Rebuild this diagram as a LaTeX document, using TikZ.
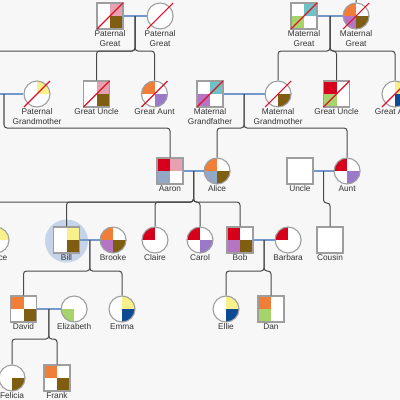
\documentclass[tikz,border=0pt]{standalone}
\usepackage{fontspec}
\setmainfont{Liberation Sans}
\usepackage{xcolor}
\usepackage{tikz}
\usetikzlibrary{calc,positioning}

\definecolor{bg}{HTML}{F7F7F7}
\definecolor{rim}{HTML}{9E9E9E}
\definecolor{wire}{HTML}{4A4A4A}
\definecolor{txt}{HTML}{333333}
\definecolor{wedblue}{HTML}{7399CC}
\definecolor{strikered}{HTML}{E0102A}
\definecolor{cred}{HTML}{D7001C}
\definecolor{cpink}{HTML}{E6A0B0}
\definecolor{cbrown}{HTML}{7F5E12}
\definecolor{cyellow}{HTML}{F8F08A}
\definecolor{corange}{HTML}{F07D38}
\definecolor{clilac}{HTML}{9A7AC8}
\definecolor{cplum}{HTML}{B574C4}
\definecolor{cteal}{HTML}{6CC2C6}
\definecolor{cgreen}{HTML}{A6D46A}
\definecolor{cnavy}{HTML}{0D4A92}
\definecolor{cslate}{HTML}{93A7C7}
\definecolor{hilite}{HTML}{C6D4EA}

\begin{document}
\begin{tikzpicture}[
      x=1pt, y=-1pt,
      font=\fontsize{8.3}{9.5}\selectfont,
      person/.style={draw=rim, line width=1.1pt, fill=white, minimum size=26pt, inner sep=0pt},
      male/.style={person, rectangle},
      female/.style={person, circle},
      quad/.style n args={4}{path picture={
        \fill[#1] (path picture bounding box.center) rectangle (path picture bounding box.north west);
        \fill[#2] (path picture bounding box.center) rectangle (path picture bounding box.north east);
        \fill[#3] (path picture bounding box.center) rectangle (path picture bounding box.south west);
        \fill[#4] (path picture bounding box.center) rectangle (path picture bounding box.south east);}},
      lbl/.style={align=center, inner sep=1pt, text=txt},
      wed/.style={draw=wedblue, line width=1.8pt},
      kin/.style={draw=wire, line width=1pt, rounded corners=3pt},
      strike/.style={draw=strikered, line width=1.2pt}
    ]
    \useasboundingbox (0,0) rectangle (400,400);
    \clip (0,0) rectangle (400,400);
    \fill[bg] (0,0) rectangle (400,400);

    % great-grandparents
    \node[male, quad={white}{cpink}{white}{cbrown}, label={[lbl]below:{Paternal\\Great}}] (pgf) at (110,16) {};
    \node[female, right=23pt of pgf, label={[lbl]below:{Paternal\\Great}}] (pgm) {};
    \node[male, quad={white}{cteal}{cgreen}{white}, label={[lbl]below:{Maternal\\Great}}] (mgf) at (304,16) {};
    \node[female, right=25pt of mgf, quad={corange}{white}{cplum}{cbrown}, label={[lbl]below:{Maternal\\Great}}] (mgm) {};
    \coordinate (mgmtop) at (356,-20);

    % grandparents and great uncles / aunts
    \coordinate (pgpa) at (-29,94);
    \node[female, quad={white}{cyellow}{white}{white}, label={[lbl]below:{Paternal\\Grandmother}}] (pgma) at (37,94) {};
    \node[male, quad={white}{cpink}{white}{cbrown}, label={[lbl]below:Great Uncle}] (pgu) at (96.5,94) {};
    \node[female, quad={corange}{white}{white}{clilac}, label={[lbl]below:Great Aunt}] (pga) at (154.5,94) {};
    \node[male, quad={white}{cteal}{cplum}{white}, label={[lbl]below:{Maternal\\Grandfather}}] (mgpa) at (210,94) {};
    \node[female, right=41pt of mgpa, quad={white}{white}{white}{cbrown}, label={[lbl]below:{Maternal\\Grandmother}}] (mgma) {};
    \node[male, quad={cred}{white}{cgreen}{white}, label={[lbl]below:Great Uncle}] (mgu) at (336.5,94) {};
    \node[female, quad={white}{cyellow}{white}{cnavy}, label={[lbl]below:Great Aunt}] (mga) at (395,94) {};

    % parents
    \node[male, quad={cred}{cpink}{cslate}{white}, label={[lbl]below:Aaron}] (aaron) at (170,171) {};
    \node[female, right=20pt of aaron, quad={corange}{white}{cslate}{cbrown}, label={[lbl]below:Alice}] (alice) {};
    \node[male, label={[lbl]below:Uncle}] (uncle) at (300,171) {};
    \node[female, right=20pt of uncle, quad={cred}{white}{white}{clilac}, label={[lbl]below:Aunt}] (aunt) {};

    % siblings
    \fill[hilite] (66.5,241) circle (21.5pt);
    \node[female, quad={white}{cyellow}{white}{white}, label={[lbl]below:Grace}] (grace) at (-4,240) {};
    \node[male, quad={white}{cyellow}{white}{cbrown}, label={[lbl]below:Bill}] (bill) at (66.5,240) {};
    \node[female, right=19.5pt of bill, quad={corange}{white}{cplum}{cbrown}, label={[lbl]below:Brooke}] (brooke) {};
    \node[female, quad={cred}{white}{white}{white}, label={[lbl]below:Claire}] (claire) at (155,240) {};
    \node[female, quad={cred}{white}{white}{clilac}, label={[lbl]below:Carol}] (carol) at (200,240) {};
    \node[male, quad={cred}{white}{cplum}{cbrown}, label={[lbl]below:Bob}] (bob) at (240,240) {};
    \node[female, right=21pt of bob, quad={cred}{white}{white}{white}, label={[lbl]below:Barbara}] (barbara) {};
    \node[male, label={[lbl]below:Cousin}] (cousin) at (330,240) {};

    % children
    \node[male, quad={corange}{white}{white}{cbrown}, label={[lbl]below:David}] (david) at (23.5,309) {};
    \node[female, right=23.5pt of david, quad={white}{white}{cgreen}{white}, label={[lbl]below:Elizabeth}] (eliz) {};
    \node[female, quad={white}{cyellow}{white}{cnavy}, label={[lbl]below:Emma}] (emma) at (122,309) {};
    \node[female, quad={white}{cyellow}{white}{cnavy}, label={[lbl]below:Ellie}] (ellie) at (226,309) {};
    \node[male, quad={corange}{white}{cgreen}{white}, label={[lbl]below:Dan}] (dan) at (271,309) {};

    % grandchildren
    \node[female, quad={white}{white}{white}{cbrown}, label={[lbl]below:Felicia}] (felicia) at (12,378) {};
    \node[male, quad={corange}{white}{white}{cbrown}, label={[lbl]below:Frank}] (frank) at (57,378) {};

    % couples
    \draw[wed] (pgf) -- (pgm);
    \draw[wed] (mgf) -- (mgm);
    \draw[wed] (pgpa) -- (pgma);
    \draw[wed] (mgpa) -- (mgma);
    \draw[wed] (aaron) -- (alice);
    \draw[wed] (uncle) -- (aunt);
    \draw[wed] (bill) -- (brooke);
    \draw[wed] (bob) -- (barbara);
    \draw[wed] (david) -- (eliz);

    % descent
    \coordinate (pg) at ($(pgf)!.5!(pgm)$);
    \coordinate (mg) at ($(mgf)!.5!(mgm)$);
    \coordinate (pp) at ($(pgpa)!.5!(pgma)$);
    \coordinate (mp) at ($(mgpa)!.5!(mgma)$);
    \coordinate (aa) at ($(aaron)!.5!(alice)$);
    \coordinate (ua) at ($(uncle)!.5!(aunt)$);
    \coordinate (bb) at ($(bill)!.5!(brooke)$);
    \coordinate (ob) at ($(bob)!.5!(barbara)$);
    \coordinate (de) at ($(david)!.5!(eliz)$);
    \draw[kin] (mgm) -- (mgmtop);
    \foreach \c in {pgpa,pgu,pga} \draw[kin] (pg) |- (\c |- 0,51) -- (\c);
    \foreach \c in {mgma,mgu,mga} \draw[kin] (mg) |- (\c |- 0,51) -- (\c);
    \draw[kin] (pp) |- (aaron |- 0,128) -- (aaron);
    \foreach \c in {alice,aunt} \draw[kin] (mp) |- (\c |- 0,128) -- (\c);
    \foreach \c in {grace,bill,claire,carol,bob} \draw[kin] (aa) |- (\c |- 0,202) -- (\c);
    \draw[kin] (ua) |- (cousin |- 0,203) -- (cousin);
    \foreach \c in {david,emma} \draw[kin] (bb) |- (\c |- 0,271) -- (\c);
    \foreach \c in {ellie,dan} \draw[kin] (ob) |- (\c |- 0,271) -- (\c);
    \foreach \c in {felicia,frank} \draw[kin] (de) |- (\c |- 0,339) -- (\c);

    % deceased
    \foreach \n in {pgf,pgm,mgf,mgm,pgma,pgu,pga,mgpa,mgma,mgu,mga}
      \draw[strike] ([shift={(-13pt,-13pt)}]\n.center) -- ([shift={(13pt,13pt)}]\n.center);
  \end{tikzpicture}
\end{document}
